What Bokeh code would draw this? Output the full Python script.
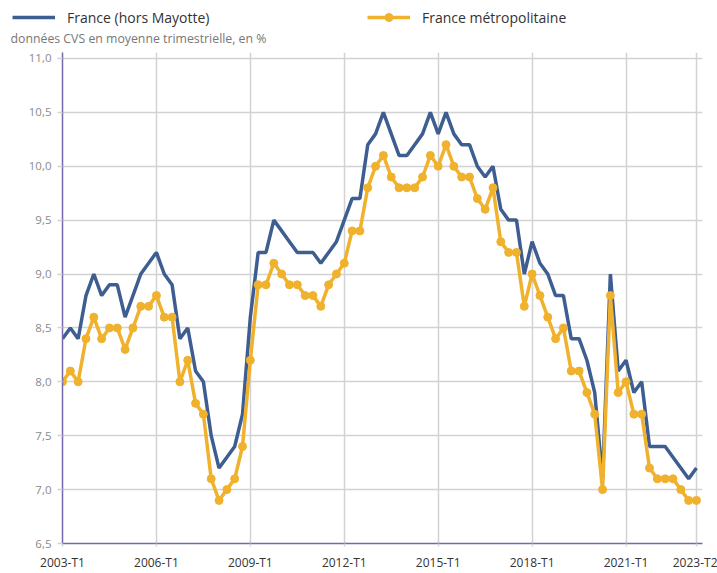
from bokeh.plotting import figure
from bokeh.layouts import column
from bokeh.models import (FixedTicker, Legend, LegendItem, Label, Range1d,
                          CustomJSTickFormatter)
from bokeh.embed import file_html
from bokeh.resources import INLINE

# ---- data ----
quarters = [f"{y}-T{q}" for y in range(2003, 2024) for q in range(1, 5)][:82]

france_hors_mayotte = [
    8.4, 8.5, 8.4, 8.8,
    9.0, 8.8, 8.9, 8.9,
    8.6, 8.8, 9.0, 9.1,
    9.2, 9.0, 8.9, 8.4,
    8.5, 8.1, 8.0, 7.5,
    7.2, 7.3, 7.4, 7.7,
    8.6, 9.2, 9.2, 9.5,
    9.4, 9.3, 9.2, 9.2,
    9.2, 9.1, 9.2, 9.3,
    9.5, 9.7, 9.7, 10.2,
    10.3, 10.5, 10.3, 10.1,
    10.1, 10.2, 10.3, 10.5,
    10.3, 10.5, 10.3, 10.2,
    10.2, 10.0, 9.9, 10.0,
    9.6, 9.5, 9.5, 9.0,
    9.3, 9.1, 9.0, 8.8,
    8.8, 8.4, 8.4, 8.2,
    7.9, 7.1, 9.0, 8.1,
    8.2, 7.9, 8.0, 7.4,
    7.4, 7.4, 7.3, 7.2,
    7.1, 7.2,
]

france_metropolitaine = [
    8.0, 8.1, 8.0, 8.4,
    8.6, 8.4, 8.5, 8.5,
    8.3, 8.5, 8.7, 8.7,
    8.8, 8.6, 8.6, 8.0,
    8.2, 7.8, 7.7, 7.1,
    6.9, 7.0, 7.1, 7.4,
    8.2, 8.9, 8.9, 9.1,
    9.0, 8.9, 8.9, 8.8,
    8.8, 8.7, 8.9, 9.0,
    9.1, 9.4, 9.4, 9.8,
    10.0, 10.1, 9.9, 9.8,
    9.8, 9.8, 9.9, 10.1,
    10.0, 10.2, 10.0, 9.9,
    9.9, 9.7, 9.6, 9.8,
    9.3, 9.2, 9.2, 8.7,
    9.0, 8.8, 8.6, 8.4,
    8.5, 8.1, 8.1, 7.9,
    7.7, 7.0, 8.8, 7.9,
    8.0, 7.7, 7.7, 7.2,
    7.1, 7.1, 7.1, 7.0,
    6.9, 6.9,
]

x_tick_labels = ["2003-T1", "2006-T1", "2009-T1", "2012-T1",
                 "2015-T1", "2018-T1", "2021-T1", "2023-T2"]
y_ticks = [6.5, 7.0, 7.5, 8.0, 8.5, 9.0, 9.5, 10.0, 10.5, 11.0]

series_names = ["France (hors Mayotte)", "France métropolitaine"]
subtitle = "données CVS en moyenne trimestrielle, en %"

# ---- style ----
BLUE = "#3e5e91"
ORANGE = "#f0b12d"
AXIS = "#7467ad"
GRID = "#d2d2d2"
FONT = "Open Sans"

x = list(range(len(quarters)))
x_tick_pos = [quarters.index(t) for t in x_tick_labels]

W, H = 717, 573
TOP_H = 48                      # header strip (legend + subtitle)
FL, FR, FT, FB = 62, 702, 52, 546   # frame edges in page pixels

# ---- header strip: legend + subtitle ----
head = figure(width=W, height=TOP_H, output_backend="svg", toolbar_location=None,
              x_range=Range1d(0, W), y_range=Range1d(0, TOP_H),
              min_border=0, min_border_left=0, min_border_right=0,
              min_border_top=0, min_border_bottom=0)
aligned = "frame_align" not in head.properties()
if not aligned:
    head.frame_align = False
XOFF = FL if aligned else 0     # header frame starts at FL if frames get aligned

head.axis.visible = False
head.grid.visible = False
head.outline_line_color = None
head.background_fill_color = "white"
head.border_fill_color = "white"

nan = float("nan")
k1 = head.line(x=[nan], y=[nan], line_color=BLUE, line_width=3.5)
k2 = head.line(x=[nan], y=[nan], line_color=ORANGE, line_width=3.5)
k3 = head.scatter(x=[nan], y=[nan], size=8, fill_color=ORANGE, line_color=ORANGE)

common = dict(orientation="horizontal", glyph_width=43, glyph_height=20,
              label_height=20, label_standoff=12, padding=0, margin=0,
              spacing=0, border_line_alpha=0, background_fill_alpha=0,
              label_text_font=FONT, label_text_font_size="14px",
              label_text_color="#333333")
LEG_TOP = 7
head.add_layout(Legend(items=[LegendItem(label=series_names[0], renderers=[k1])],
                       location=(12 - XOFF, TOP_H - LEG_TOP - 20), **common))
head.add_layout(Legend(items=[LegendItem(label=series_names[1], renderers=[k2, k3])],
                       location=(367 - XOFF, TOP_H - LEG_TOP - 20), **common))
head.add_layout(Label(x=10 - XOFF, y=TOP_H - 38, x_units="screen", y_units="screen",
                      text=subtitle, text_baseline="middle", text_font=FONT,
                      text_font_size="12.3px", text_color="#777777"))

# ---- main chart ----
p = figure(width=W, height=H - TOP_H, output_backend="svg", toolbar_location=None,
           x_range=Range1d(0, 81.77), y_range=Range1d(6.5, 11.055),
           min_border_left=FL, min_border_right=W - FR,
           min_border_top=FT - TOP_H, min_border_bottom=H - FB)
if not aligned:
    p.frame_align = False
p.outline_line_color = None
p.background_fill_color = "white"
p.border_fill_color = "white"

p.line(x, france_hors_mayotte, line_color=BLUE, line_width=3.5)
p.line(x, france_metropolitaine, line_color=ORANGE, line_width=3.5)
p.scatter(x, france_metropolitaine, size=8, fill_color=ORANGE, line_color=ORANGE)

p.xaxis.ticker = FixedTicker(ticks=x_tick_pos)
p.xaxis.formatter = CustomJSTickFormatter(args=dict(labels=quarters),
                                          code="return labels[Math.round(tick)];")
p.yaxis.ticker = FixedTicker(ticks=y_ticks)
p.yaxis.formatter = CustomJSTickFormatter(code="return tick.toFixed(1).replace('.', ',');")

for ax in (p.xaxis, p.yaxis):
    ax.axis_line_color = AXIS
    ax.axis_line_width = 1.5
    ax.minor_tick_line_color = None
    ax.major_tick_line_color = GRID
    ax.major_tick_line_width = 1.5
    ax.major_tick_in = 0
    ax.major_label_text_font = FONT

p.yaxis.major_tick_out = 5
p.yaxis.major_label_standoff = 6
p.yaxis.major_label_text_font_size = "11.5px"
p.yaxis.major_label_text_color = "#8a8a8a"

p.xaxis.major_tick_out = 3
p.xaxis.major_label_standoff = 7
p.xaxis.major_label_text_font_size = "12px"
p.xaxis.major_label_text_color = "#333333"

p.xgrid.ticker = FixedTicker(ticks=x_tick_pos)
p.ygrid.ticker = FixedTicker(ticks=y_ticks)
for g in (p.xgrid, p.ygrid):
    g.grid_line_color = GRID
    g.grid_line_width = 1.5

layout = column(head, p, spacing=0)
open("out.html", "w").write(file_html(layout, INLINE))
